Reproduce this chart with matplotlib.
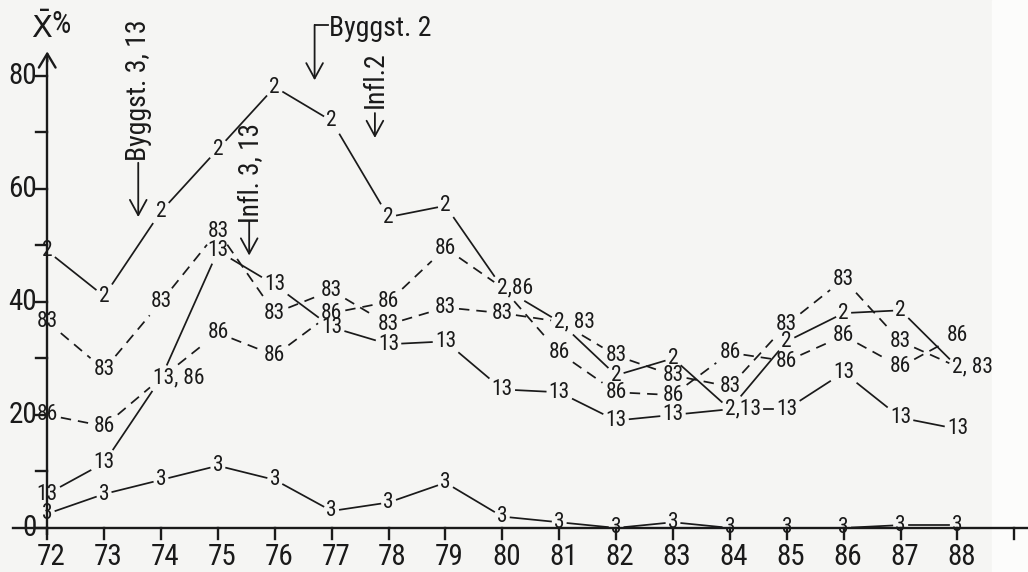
import matplotlib
matplotlib.use('Agg')
import matplotlib.pyplot as plt
from matplotlib import font_manager
import numpy as np

# years on the x axis (19xx)
years = list(range(72, 89))

# mean percentage per year for each series
s2 = [49, 41, 56, 67, 78, 72, 55, 57, 42.5, 36.5, 27, 30, 21, 33, 38, 38.5, 28.5]
s83 = [36.5, 28, 40, 52.5, 38, 42, 36, 39, 38, 36.5, 30.5, 27, 25, 36, 44, 33, 28.5]
s13 = [6, 11.5, 26.5, 49, 43, 35.5, 32.5, 33, 24.5, 24, 19, 20, 21, 21, 27.5, 19.5, 17.5]
s86 = [20, 18, 26.5, 34.5, 30.5, 38, 40, 49.5, 42.5, 31, 24, 23.5, 31, 29.5, 34, 28.5, 34]
s3 = [2.5, 6, 8.5, 11, 8.5, 3, 4.5, 8, 2, 1, 0, 1, 0, 0, 0, 0.5, 0.5]

series = [('2', s2, '-'), ('83', s83, '--'), ('13', s13, '-'),
          ('86', s86, '--'), ('3', s3, '-')]

# points where two series share one written label
shared = {(74, '13'): '13, 86', (80, '2'): '2,86', (81, '2'): '2, 83',
          (84, '2'): '2,13', (88, '2'): '2, 83'}
hidden = {(74, '86'), (80, '86'), (81, '83'), (84, '13'), (88, '83')}

yticks = [0, 20, 40, 60, 80]
yminor = [10, 30, 50, 70]

ink = '#1a1a1a'
paper = '#f5f5f3'

# pick a narrow sans if one is installed
installed = {(f.name, f.stretch) for f in font_manager.fontManager.ttflist}
names = {n for n, s in installed}
stretch = 'normal'
if 'Liberation Sans Narrow' in names:
    face = 'Liberation Sans Narrow'
elif 'Roboto Condensed' in names:
    face = 'Roboto Condensed'
elif any(n == 'DejaVu Sans' and s in ('condensed', 'semi-condensed')
         for n, s in installed):
    face, stretch = 'DejaVu Sans', 'condensed'
else:
    face = 'Roboto'
plt.rcParams['font.family'] = [face, 'DejaVu Sans']
plt.rcParams['font.stretch'] = stretch
narrow = face != 'Roboto'
lab_fs = 15.5 if narrow else 13.5
tick_fs = 21 if narrow else 18.5
note_fs = 20 if narrow else 16.5

fig = plt.figure(figsize=(10.28, 5.72), dpi=100)
fig.patch.set_facecolor(paper)
ax = fig.add_axes([0, 0, 1, 1])
ax.patch.set_alpha(0)
ax.set_xlim(71.17, 89.24)
ax.set_ylim(-7.8, 93.4)
ax.axis('off')
# lighter margin strip at the right edge of the sheet
fig.patches.append(plt.Rectangle((0.965, 0), 0.035, 1, transform=fig.transFigure,
                                 color='#fcfcfb', zorder=-1))

# axes drawn by hand: y axis with arrow, x axis running off to the right
ax.plot([72, 72], [-1.3, 83], color=ink, lw=1.7, solid_capstyle='butt')
ax.annotate('', xy=(72, 84.8), xytext=(72, 82),
            arrowprops=dict(arrowstyle='->,head_length=0.5,head_width=0.3',
                            color=ink, lw=1.7, mutation_scale=20))
ax.plot([71.4, 89.3], [0, 0], color=ink, lw=1.7, clip_on=False)
for v in yticks + yminor:
    ax.plot([71.8, 72], [v, v], color=ink, lw=1.7)
for v in yticks:
    ax.text(71.82, v, str(v), ha='right', va='center', fontsize=tick_fs,
            color=ink)
for yr in years + [89]:
    ax.plot([yr, yr], [0, -1.9], color=ink, lw=1.7)
for yr in years:
    ax.text(yr + 0.07, -5.1, str(yr), ha='center', va='center',
            fontsize=tick_fs, color=ink)
ax.text(71.9, 88.4, r'$\bar{\mathrm{X}}$', ha='center', va='center',
        fontsize=22, color=ink, family='DejaVu Sans')
ax.text(72.07, 89.0, '%', ha='left', va='center', fontsize=22, color=ink)

# number labels act as the plot markers
labels = {}
for name, vals, ls in series:
    for yr, v in zip(years, vals):
        if (yr, name) in hidden:
            continue
        if (yr, name) in shared:
            t = ax.text(yr, v, shared[(yr, name)], ha='left', va='center',
                        fontsize=lab_fs, color=ink)
            t.set_x(yr - (0.09 if name == '2' else 0.14))
        else:
            t = ax.text(yr, v, name, ha='center', va='center',
                        fontsize=lab_fs, color=ink)
        labels[(yr, name)] = t
for (yr, name), txt in shared.items():
    other = txt.replace(' ', '').split(',')[1]
    labels[(yr, other)] = labels[(yr, name)]

fig.canvas.draw()
renderer = fig.canvas.get_renderer()
inv = ax.transData.inverted()


def exit_len(p, d, box, pad=3):
    x0, y0, x1, y1 = box.x0 - pad, box.y0 - pad, box.x1 + pad, box.y1 + pad
    ts = []
    if d[0] > 0:
        ts.append((x1 - p[0]) / d[0])
    elif d[0] < 0:
        ts.append((x0 - p[0]) / d[0])
    if d[1] > 0:
        ts.append((y1 - p[1]) / d[1])
    elif d[1] < 0:
        ts.append((y0 - p[1]) / d[1])
    return max(0.0, min(ts))


# connecting lines stop short of the number labels
for name, vals, ls in series:
    pts = ax.transData.transform(np.column_stack([years, vals]))
    for i in range(len(years) - 1):
        a, b = pts[i], pts[i + 1]
        d = b - a
        L = np.hypot(*d)
        u = d / L
        ba = labels[(years[i], name)].get_window_extent(renderer)
        bb = labels[(years[i + 1], name)].get_window_extent(renderer)
        t0 = exit_len(a, u, ba)
        t1 = exit_len(b, -u, bb)
        if t0 + t1 >= L - 2:
            continue
        seg = inv.transform([a + u * t0, b - u * t1])
        ax.plot(seg[:, 0], seg[:, 1], ls, color=ink, lw=1.25,
                dashes=(6, 4) if ls == '--' else (None, None))

# event markers
arrow = dict(arrowstyle='->,head_length=0.55,head_width=0.3', color=ink,
             lw=1.3, mutation_scale=20, shrinkA=0, shrinkB=0)
ax.text(73.6, 77.5, 'Byggst. 3, 13', rotation=90, ha='center', va='center',
        fontsize=note_fs, color=ink)
ax.annotate('', xy=(73.6, 55), xytext=(73.6, 64.6), arrowprops=arrow)
ax.text(75.6, 62.8, 'Infl. 3, 13', rotation=90, ha='center', va='center',
        fontsize=note_fs - 0.5, color=ink)
ax.annotate('', xy=(75.55, 48.2), xytext=(75.55, 54.2), arrowprops=arrow)
ax.text(76.95, 88.4, 'Byggst. 2', ha='left', va='center', fontsize=note_fs,
        color=ink)
ax.plot([76.7, 76.93], [89, 89], color=ink, lw=1.3)
ax.annotate('', xy=(76.7, 79.2), xytext=(76.7, 89), arrowprops=arrow)
ax.text(77.76, 79.3, 'Infl.2', rotation=90, ha='center', va='center',
        fontsize=note_fs, color=ink)
ax.annotate('', xy=(77.76, 69), xytext=(77.76, 73.4), arrowprops=arrow)

fig.savefig('out.png', dpi=100, facecolor=fig.get_facecolor())
